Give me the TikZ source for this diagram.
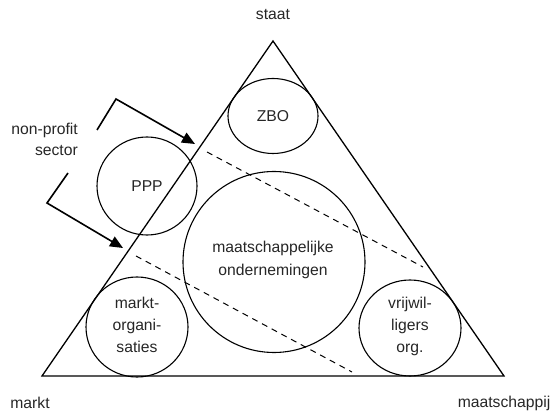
\documentclass[tikz,border=0pt]{standalone}
\usepackage{fontspec}
\setmainfont{Liberation Sans}
\usetikzlibrary{shapes.geometric,arrows.meta}
\begin{document}
\begin{tikzpicture}[x=1pt,y=-1pt,
  txt/.style={font=\fontsize{15.7}{23}\selectfont, text=black!85, align=center, inner sep=0pt},
  blob/.style={draw, ellipse, line width=1.1pt, inner sep=0pt, font=\fontsize{15.7}{22}\selectfont, text=black!85, align=center},
  tri/.style={line width=1.3pt, line join=miter},
  dash line/.style={dashed, line width=1pt, dash pattern=on 6pt off 5pt},
  pointer/.style={line width=1.6pt, -{Triangle[length=13pt,width=11pt]}}]
\useasboundingbox (0,0) rectangle (552,414);
% triangle
\coordinate (L) at (42,376);
\coordinate (R) at (504,376);
\coordinate (T) at (273,41);
\draw[tri] (L) -- (T) -- (R) -- cycle;
% dashed lines
\coordinate (d1a) at (207,152);
\coordinate (d1b) at (423,267);
\coordinate (d2a) at (136,256);
\coordinate (d2b) at (352,372);
\draw[dash line] (d1a) -- (d1b);
\draw[dash line] (d2a) -- (d2b);
% circles
\node[blob, minimum width=90pt, minimum height=75pt] (zbo) at (273,116) {ZBO};
\node[blob, minimum width=100pt, minimum height=98pt] (ppp) at (147,186) {PPP};
\node[blob, minimum width=182pt, minimum height=181pt] (mo) at (274,262) {};
\node[txt] (motxt) at (273,260) {maatschappelijke\\ondernemingen};
\node[blob, minimum width=102pt, minimum height=100pt] (mkt) at (137,327) {};
\node[txt, font=\fontsize{15.7}{22}\selectfont] (mkttxt) at (137,325) {markt-\\organi-\\saties};
\node[blob, minimum width=102pt, minimum height=96pt] (vrij) at (410,328) {};
\node[txt, font=\fontsize{15.7}{22}\selectfont] (vrijtxt) at (410,326) {vrijwil-\\ligers\\org.};
% labels
\node[txt] (staat) at (273,15) {staat};
\node[txt] (markt) at (30,403) {markt};
\node[txt] (maat) at (504,403) {maatschappij};
\node[txt, align=right, anchor=east] (npa) at (78,130) {non-profit};
\node[txt, align=right, anchor=east] (npb) at (78,151) {sector};
% arrows
\coordinate (a1s) at (97,130);
\coordinate (a1c) at (116,99);
\coordinate (a1e) at (195,144);
\coordinate (a2s) at (68,173);
\coordinate (a2c) at (47,203);
\coordinate (a2e) at (123,248);
\draw[pointer] (a1s) -- (a1c) -- (a1e);
\draw[pointer] (a2s) -- (a2c) -- (a2e);
\end{tikzpicture}
\end{document}
